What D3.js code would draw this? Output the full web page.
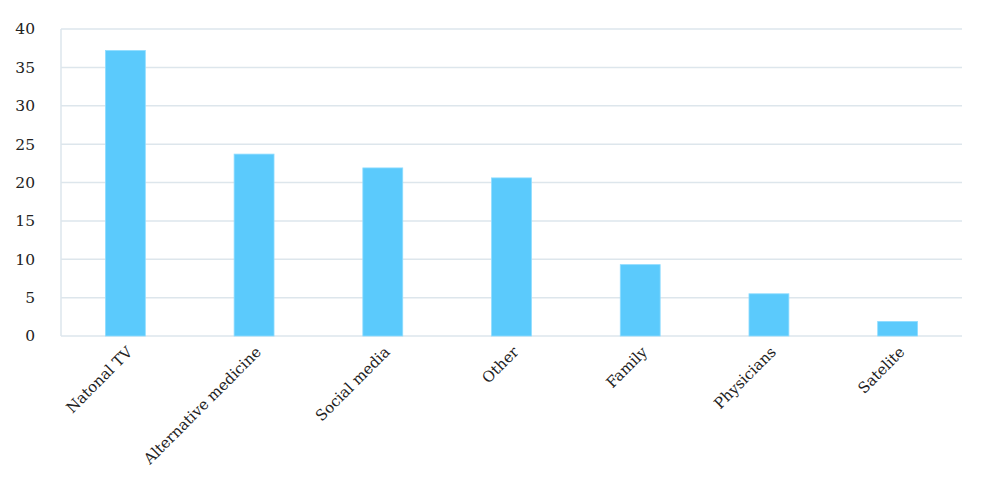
<!DOCTYPE html>
<html><head><meta charset="utf-8">
<script src="https://cdn.jsdelivr.net/npm/d3@7"></script>
<style>body{margin:0;background:#fff}</style>
</head><body>
<svg id="c" width="1000" height="484"></svg>
<script>
const categories = ["Natonal TV","Alternative medicine","Social media","Other","Family","Physicians","Satelite"];
const values = [37.2, 23.7, 21.9, 20.6, 9.3, 5.5, 1.9];
const yTicks = [0,5,10,15,20,25,30,35,40];

const svg = d3.select("#c");
const m = {left:61, right:962, top:29, bottom:336};
const x = d3.scaleBand().domain(categories).range([m.left, m.right]).paddingInner(0.69).paddingOuter(0.345);
const y = d3.scaleLinear().domain([0,40]).range([m.bottom, m.top]);
const font = "'DejaVu Serif', serif";

svg.append("g").selectAll("line").data(yTicks).join("line")
  .attr("x1", m.left).attr("x2", m.right)
  .attr("y1", d=>y(d)).attr("y2", d=>y(d))
  .attr("stroke", "#dde6ec").attr("stroke-width", 1.5);
svg.append("line").attr("x1", m.left).attr("x2", m.left).attr("y1", m.top).attr("y2", m.bottom)
  .attr("stroke", "#dde6ec").attr("stroke-width", 1.5);

svg.append("g").selectAll("rect").data(values).join("rect")
  .attr("x", (d,i)=>x(categories[i])).attr("width", x.bandwidth())
  .attr("y", d=>y(d)).attr("height", d=>y(0)-y(d))
  .attr("fill", "#5bcafc").attr("stroke", "#8fdcff").attr("stroke-width", 0.8);

svg.append("g").selectAll("text").data(yTicks).join("text")
  .attr("x", 35).attr("y", d=>y(d)).attr("dy", "0.35em")
  .attr("text-anchor", "end").attr("font-family", font).attr("font-size", 15.5).attr("fill", "#222")
  .text(d=>d);

svg.append("g").selectAll("text").data(categories).join("text")
  .attr("transform", d=>`translate(${x(d)+x.bandwidth()/2+8},${353}) rotate(-45)`)
  .attr("text-anchor", "end").attr("font-family", font).attr("font-size", 15).attr("fill", "#222")
  .text(d=>d);
</script>
</body></html>
